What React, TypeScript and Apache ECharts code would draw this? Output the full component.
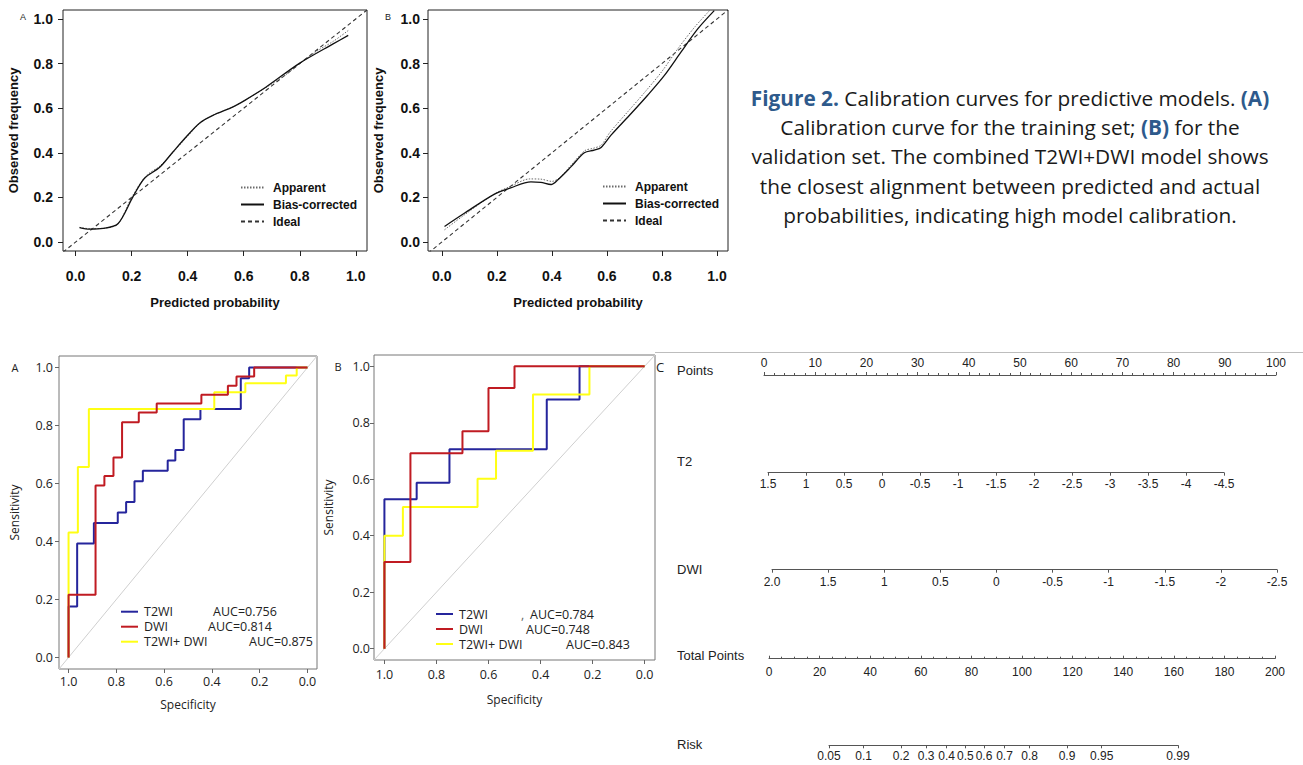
import React, { useEffect, useRef } from "react";
import * as echarts from "echarts";

// ---------- Calibration curves ----------
const calTicks = [0, 0.2, 0.4, 0.6, 0.8, 1.0];
const calSeriesNames = ["Apparent", "Bias-corrected", "Ideal"];

const calA_appX = [0.014, 0.05, 0.1, 0.15, 0.2, 0.25, 0.3, 0.35, 0.4, 0.445, 0.49, 0.56, 0.6, 0.68, 0.75, 0.8, 0.86, 0.92, 0.973];
const calA_appY = [0.066, 0.06, 0.062, 0.08, 0.2, 0.295, 0.34, 0.405, 0.475, 0.534, 0.568, 0.605, 0.632, 0.693, 0.75, 0.8, 0.855, 0.9, 0.948];
const calA_biasX = [0.014, 0.05, 0.098, 0.151, 0.205, 0.246, 0.3, 0.348, 0.395, 0.443, 0.49, 0.562, 0.604, 0.68, 0.8, 0.919, 0.973];
const calA_biasY = [0.065, 0.058, 0.061, 0.082, 0.204, 0.286, 0.335, 0.405, 0.472, 0.534, 0.568, 0.606, 0.635, 0.695, 0.802, 0.888, 0.926];
const calA_ideal = [-0.045, 1.04];

const calB_appX = [0.01, 0.08, 0.19, 0.25, 0.32, 0.36, 0.4, 0.43, 0.47, 0.52, 0.55, 0.58, 0.61, 0.68, 0.74, 0.8, 0.86, 0.92, 0.975];
const calB_appY = [0.055, 0.12, 0.215, 0.25, 0.283, 0.282, 0.272, 0.29, 0.345, 0.41, 0.42, 0.435, 0.49, 0.59, 0.675, 0.765, 0.87, 0.965, 1.04];
const calB_biasX = [0.01, 0.082, 0.19, 0.25, 0.324, 0.36, 0.397, 0.421, 0.47, 0.518, 0.554, 0.579, 0.615, 0.688, 0.748, 0.809, 0.869, 0.93, 0.99];
const calB_biasY = [0.07, 0.129, 0.214, 0.243, 0.27, 0.268, 0.258, 0.278, 0.338, 0.4, 0.412, 0.424, 0.479, 0.576, 0.658, 0.747, 0.851, 0.955, 1.037];
const calB_ideal = [-0.05, 1.04];

// ---------- ROC curves (specificity, sensitivity) ----------
const rocTicks = [0, 0.2, 0.4, 0.6, 0.8, 1.0];
const rocNames = ["T2WI", "DWI", "T2WI+ DWI"];
const rocA_auc = ["AUC=0.756", "AUC=0.814", "AUC=0.875"];
const rocB_auc = ["AUC=0.784", "AUC=0.748", "AUC=0.843"];

const rocA_t2Spec = [1, 1, 0.964, 0.964, 0.894, 0.894, 0.794, 0.794, 0.759, 0.759, 0.724, 0.724, 0.689, 0.689, 0.585, 0.585, 0.553, 0.553, 0.518, 0.518, 0.448, 0.448, 0.279, 0.279, 0.244, 0.244, 0];
const rocA_t2Sens = [0, 0.176, 0.176, 0.393, 0.393, 0.464, 0.464, 0.5, 0.5, 0.536, 0.536, 0.608, 0.608, 0.644, 0.644, 0.679, 0.679, 0.716, 0.716, 0.822, 0.822, 0.857, 0.857, 0.963, 0.963, 1, 1];
const rocA_dwiSpec = [1, 1, 0.887, 0.887, 0.85, 0.85, 0.812, 0.812, 0.776, 0.776, 0.706, 0.706, 0.631, 0.631, 0.444, 0.444, 0.333, 0.333, 0.297, 0.297, 0.223, 0.223, 0];
const rocA_dwiSens = [0, 0.216, 0.216, 0.593, 0.593, 0.626, 0.626, 0.69, 0.69, 0.811, 0.811, 0.845, 0.845, 0.876, 0.876, 0.906, 0.906, 0.937, 0.937, 0.969, 0.969, 1, 1];
const rocA_combSpec = [1, 1, 0.961, 0.961, 0.915, 0.915, 0.39, 0.39, 0.26, 0.26, 0.09, 0.09, 0.045, 0.045, 0];
const rocA_combSens = [0, 0.431, 0.431, 0.657, 0.657, 0.857, 0.857, 0.915, 0.915, 0.946, 0.946, 0.973, 0.973, 1, 1];

const rocB_t2Spec = [1, 1, 0.876, 0.876, 0.75, 0.75, 0.376, 0.376, 0.25, 0.25, 0];
const rocB_t2Sens = [0, 0.529, 0.529, 0.588, 0.588, 0.706, 0.706, 0.882, 0.882, 1, 1];
const rocB_dwiSpec = [1, 1, 0.9, 0.9, 0.7, 0.7, 0.6, 0.6, 0.5, 0.5, 0];
const rocB_dwiSens = [0, 0.307, 0.307, 0.692, 0.692, 0.77, 0.77, 0.923, 0.923, 1, 1];
const rocB_combSpec = [1, 1, 0.929, 0.929, 0.642, 0.642, 0.571, 0.571, 0.429, 0.429, 0.212, 0.212, 0];
const rocB_combSens = [0, 0.4, 0.4, 0.502, 0.502, 0.602, 0.602, 0.701, 0.701, 0.9, 0.9, 1, 1];
const rocDiag = [1.04, -0.04];

// ---------- Nomogram ----------
const nomoRows = ["Points", "T2", "DWI", "Total Points", "Risk"];
const riskLabels = ["0.05", "0.1", "0.2", "0.3", "0.4", "0.5", "0.6", "0.7", "0.8", "0.9", "0.95", "0.99"];
const riskPoints = [23.7, 37.4, 52.2, 62.1, 70.2, 77.6, 85.0, 93.1, 103.0, 117.8, 131.5, 161.7];

// ---------- Caption ----------
const captionLines = [
  "{b|Figure 2.} Calibration curves for predictive models. {b|(A)}",
  "Calibration curve for the training set; {b|(B)} for the",
  "validation set. The combined T2WI+DWI model shows",
  "the closest alignment between predicted and actual",
  "probabilities, indicating high model calibration.",
];

const FONT_CAL = "Liberation Sans";
const FONT_ROC = "Open Sans";
const FONT_NOMO = "Liberation Sans";
const FONT_CAP = "Open Sans";
const BLUE = "#25259c";
const RED = "#c01b22";
const YELLOW = "#ffff14";

const zip = (xs: number[], ys: number[]) => xs.map((x, i) => [x, ys[i]]);

function calXAxis(gridIndex: number, min: number) {
  return {
    type: "value", gridIndex, min, max: 1.04,
    splitLine: { show: false },
    axisLine: { show: false, onZero: false },
    axisTick: { show: true, customValues: calTicks, length: 5, lineStyle: { color: "#222", width: 1 } },
    axisLabel: { customValues: calTicks, formatter: (v: number) => v.toFixed(1), margin: 18, fontFamily: FONT_CAL, fontWeight: "bold", fontSize: 14, color: "#111" },
    name: "Predicted probability", nameLocation: "middle", nameGap: 45,
    nameTextStyle: { fontFamily: FONT_CAL, fontWeight: "bold", fontSize: 13, color: "#111" },
  };
}
function calYAxis(gridIndex: number, margin: number) {
  return {
    type: "value", gridIndex, min: -0.04, max: 1.04,
    splitLine: { show: false },
    axisLine: { show: false, onZero: false },
    axisTick: { show: true, customValues: calTicks, length: 5, lineStyle: { color: "#222", width: 1 } },
    axisLabel: { customValues: calTicks, formatter: (v: number) => v.toFixed(1), margin, fontFamily: FONT_CAL, fontWeight: "bold", fontSize: 14, color: "#111" },
    name: "Observed frequency", nameLocation: "middle", nameGap: 43,
    nameTextStyle: { fontFamily: FONT_CAL, fontWeight: "bold", fontSize: 13, color: "#111" },
  };
}
function rocXAxis(gridIndex: number, margin: number, gap: number) {
  return {
    type: "value", gridIndex, min: -0.04, max: 1.04, inverse: true,
    splitLine: { show: false },
    axisLine: { show: false, onZero: false },
    axisTick: { show: true, customValues: rocTicks, length: 4, lineStyle: { color: "#666", width: 1 } },
    axisLabel: { customValues: rocTicks, formatter: (v: number) => v.toFixed(1), margin, fontFamily: FONT_ROC, fontSize: 12.5, color: "#222" },
    name: "Specificity", nameLocation: "middle", nameGap: gap,
    nameTextStyle: { fontFamily: FONT_ROC, fontSize: 12, color: "#222" },
  };
}
function rocYAxis(gridIndex: number, margin: number, gap: number) {
  return {
    type: "value", gridIndex, min: -0.04, max: 1.04,
    splitLine: { show: false },
    axisLine: { show: false, onZero: false },
    axisTick: { show: true, customValues: rocTicks, length: 4, lineStyle: { color: "#666", width: 1 } },
    axisLabel: { customValues: rocTicks, formatter: (v: number) => v.toFixed(1), margin, fontFamily: FONT_ROC, fontSize: 12.5, color: "#222" },
    name: "Sensitivity", nameLocation: "middle", nameGap: gap,
    nameTextStyle: { fontFamily: FONT_ROC, fontSize: 12, color: "#222" },
  };
}
function nomoAxis(gridIndex: number, extra: any) {
  const base: any = {
    type: "value", gridIndex,
    splitLine: { show: false },
    axisLine: { show: true, onZero: false, lineStyle: { color: "#555", width: 1 } },
    axisTick: { show: true, length: 3, lineStyle: { color: "#555", width: 1 } },
    axisLabel: { fontFamily: FONT_NOMO, fontSize: 12, color: "#222", margin: 6, showMinLabel: true, showMaxLabel: true },
  };
  return {
    ...base, ...extra,
    axisTick: { ...base.axisTick, ...(extra.axisTick || {}) },
    axisLabel: { ...base.axisLabel, ...(extra.axisLabel || {}) },
  };
}

function calSeries(idx: number, appX: number[], appY: number[], biasX: number[], biasY: number[], ideal: number[]) {
  return [
    { name: calSeriesNames[0], type: "line", xAxisIndex: idx, yAxisIndex: idx, data: zip(appX, appY), symbol: "none", smooth: 0.3, silent: true, lineStyle: { color: "#6a6a6a", width: 1, type: [1.5, 1.5] }, itemStyle: { color: "#6a6a6a" }, z: 3 },
    { name: calSeriesNames[1], type: "line", xAxisIndex: idx, yAxisIndex: idx, data: zip(biasX, biasY), symbol: "none", smooth: 0.3, silent: true, lineStyle: { color: "#111", width: 1.3 }, itemStyle: { color: "#111" }, z: 4 },
    { name: calSeriesNames[2], type: "line", xAxisIndex: idx, yAxisIndex: idx, data: zip(ideal, ideal), symbol: "none", silent: true, lineStyle: { color: "#333", width: 1.1, type: [4, 3] }, itemStyle: { color: "#333" }, z: 2 },
  ];
}
function rocSeries(idx: number, t2: number[][], dwi: number[][], comb: number[][]) {
  return [
    { name: "diag" + idx, type: "line", xAxisIndex: idx, yAxisIndex: idx, data: zip(rocDiag, [rocDiag[1], rocDiag[0]]), symbol: "none", silent: true, lineStyle: { color: "#cfcfcf", width: 1 }, z: 1 },
    { name: rocNames[0], type: "line", xAxisIndex: idx, yAxisIndex: idx, data: zip(t2[0], t2[1]), symbol: "none", silent: true, lineStyle: { color: BLUE, width: 2 }, itemStyle: { color: BLUE }, z: 2 },
    { name: rocNames[2], type: "line", xAxisIndex: idx, yAxisIndex: idx, data: zip(comb[0], comb[1]), symbol: "none", silent: true, lineStyle: { color: YELLOW, width: 2 }, itemStyle: { color: YELLOW }, z: 3 },
    { name: rocNames[1], type: "line", xAxisIndex: idx, yAxisIndex: idx, data: zip(dwi[0], dwi[1]), symbol: "none", silent: true, lineStyle: { color: RED, width: 2 }, itemStyle: { color: RED }, z: 4 },
  ];
}

function rocLegend(left: number, top: number, aucs: string[], widths: number[], comma: boolean) {
  const rich: any = {
    a: { fontFamily: FONT_ROC, fontSize: 12.5, color: "#222" },
    c: { fontFamily: FONT_ROC, fontSize: 12.5, color: "#666", width: 9 },
  };
  widths.forEach((w, i) => { rich["n" + i] = { fontFamily: FONT_ROC, fontSize: 12.5, color: "#222", width: w }; });
  return {
    orient: "vertical", left, top, padding: 0, itemGap: 1, itemWidth: 17, itemHeight: 8,
    selectedMode: false, data: rocNames,
    itemStyle: { opacity: 0 },
    formatter: (name: string) => {
      const i = rocNames.indexOf(name);
      return `{n${i}|${name}}` + (comma && i === 0 ? "{c|,}" : "") + `{a|${aucs[i]}}`;
    },
    textStyle: { fontFamily: FONT_ROC, fontSize: 12.5, color: "#222", lineHeight: 14, padding: [0, 0, 0, 1], rich },
  };
}
function calLegend(left: number, top: number) {
  return {
    orient: "vertical", left, top, padding: 0, itemGap: 2, itemWidth: 23, itemHeight: 10,
    selectedMode: false, data: calSeriesNames,
    itemStyle: { opacity: 0 },
    textStyle: { fontFamily: FONT_CAL, fontWeight: "bold", fontSize: 12, color: "#111", lineHeight: 15, padding: [0, 0, 0, 4] },
  };
}

function buildOption() {
  const grids = [
    { left: 63, top: 10, width: 304, height: 241, show: true, borderColor: "#222", borderWidth: 1, backgroundColor: "transparent", outerBoundsMode: "none" },
    { left: 428, top: 10, width: 300, height: 241, show: true, borderColor: "#222", borderWidth: 1, backgroundColor: "transparent", outerBoundsMode: "none" },
    { left: 59, top: 356, width: 258, height: 313, show: true, borderColor: "#777", borderWidth: 1, backgroundColor: "transparent", outerBoundsMode: "none" },
    { left: 374, top: 355, width: 281, height: 305, show: true, borderColor: "#777", borderWidth: 1, backgroundColor: "transparent", outerBoundsMode: "none" },
    { left: 764, top: 375, width: 512, height: 1, outerBoundsMode: "none" },
    { left: 768, top: 471.7, width: 456, height: 1, outerBoundsMode: "none" },
    { left: 772, top: 568.7, width: 505, height: 1, outerBoundsMode: "none" },
    { left: 769, top: 657.7, width: 506, height: 1, outerBoundsMode: "none" },
    { left: 829, top: 744.3, width: 349, height: 1, outerBoundsMode: "none" },
  ];

  const xAxes: any[] = [
    calXAxis(0, -0.045),
    calXAxis(1, -0.05),
    rocXAxis(2, 6, 29),
    rocXAxis(3, 8, 33),
    nomoAxis(4, { position: "top", min: 0, max: 100, interval: 10, minorTick: { show: true, splitNumber: 5, length: 2, lineStyle: { color: "#555" } }, axisLabel: { margin: 6 } }),
    nomoAxis(5, { position: "bottom", min: -4.5, max: 1.5, interval: 0.5, inverse: true, axisLabel: { margin: 5 } }),
    nomoAxis(6, { position: "bottom", min: -2.5, max: 2, interval: 0.5, inverse: true, axisLabel: { margin: 6, formatter: (v: number) => (v === 2 ? "2.0" : String(v)) } }),
    nomoAxis(7, { position: "bottom", min: 0, max: 200, interval: 20, axisTick: { inside: true }, minorTick: { show: true, splitNumber: 4, length: 2, lineStyle: { color: "#555" } }, axisLabel: { margin: 7 } }),
    nomoAxis(8, {
      position: "bottom", min: riskPoints[0], max: riskPoints[riskPoints.length - 1],
      axisTick: { customValues: riskPoints },
      axisLabel: {
        margin: 5, customValues: riskPoints,
        formatter: (v: number) => {
          let best = 0;
          riskPoints.forEach((p, i) => { if (Math.abs(p - v) < Math.abs(riskPoints[best] - v)) best = i; });
          return riskLabels[best];
        },
      },
    }),
  ];
  const yAxes: any[] = [
    calYAxis(0, 10),
    calYAxis(1, 8),
    rocYAxis(2, 6, 39),
    rocYAxis(3, 4, 40),
  ];
  for (let g = 4; g < 9; g++) yAxes.push({ type: "value", gridIndex: g, min: 0, max: 1, show: false });

  const series = [
    ...calSeries(0, calA_appX, calA_appY, calA_biasX, calA_biasY, calA_ideal),
    ...calSeries(1, calB_appX, calB_appY, calB_biasX, calB_biasY, calB_ideal),
    ...rocSeries(2, [rocA_t2Spec, rocA_t2Sens], [rocA_dwiSpec, rocA_dwiSens], [rocA_combSpec, rocA_combSens]),
    ...rocSeries(3, [rocB_t2Spec, rocB_t2Sens], [rocB_dwiSpec, rocB_dwiSens], [rocB_combSpec, rocB_combSens]),
  ];

  const rowY = [370, 461, 569, 655, 744];
  const graphic: any[] = [
    { type: "line", shape: { x1: 655, y1: 352.5, x2: 1303, y2: 352.5 }, style: { stroke: "#bdbdbd", lineWidth: 1 }, silent: true },
    { type: "text", x: 23, y: 17, style: { text: "A", fontSize: 9, fontFamily: FONT_CAL, fill: "#222", align: "center", verticalAlign: "middle" } },
    { type: "text", x: 388, y: 17, style: { text: "B", fontSize: 9, fontFamily: FONT_CAL, fill: "#222", align: "center", verticalAlign: "middle" } },
    { type: "text", x: 15, y: 367, style: { text: "A", fontSize: 11, fontFamily: FONT_ROC, fill: "#222", align: "center", verticalAlign: "middle" } },
    { type: "text", x: 338, y: 366, style: { text: "B", fontSize: 11, fontFamily: FONT_ROC, fill: "#222", align: "center", verticalAlign: "middle" } },
    { type: "text", x: 660, y: 367, style: { text: "C", fontSize: 13, fontFamily: FONT_ROC, fill: "#222", align: "center", verticalAlign: "middle" } },
    ...nomoRows.map((t, i) => ({ type: "text", x: 677, y: rowY[i], style: { text: t, fontSize: 13, fontFamily: FONT_NOMO, fill: "#222", align: "left", verticalAlign: "middle" } })),
    ...captionLines.map((t, i) => ({
      type: "text", x: 1010, y: 98 + i * 29.2,
      style: {
        text: t, fontSize: 20.8, fontFamily: FONT_CAP, fill: "#1a1a1a", align: "center", verticalAlign: "middle",
        rich: { b: { fontSize: 20.8, fontFamily: FONT_CAP, fontWeight: "bold", fill: "#2e5a8c" } },
      },
    })),
  ];

  return {
    animation: false,
    backgroundColor: "#ffffff",
    grid: grids,
    xAxis: xAxes,
    yAxis: yAxes,
    legend: [
      calLegend(240, 180),
      calLegend(602, 179),
      rocLegend(120, 604.7, rocA_auc, [69, 64, 105], false),
      rocLegend(435, 607, rocB_auc, [62, 67, 107], true),
    ],
    series,
    graphic,
  };
}

export default function App() {
  const ref = useRef<HTMLDivElement>(null);
  useEffect(() => {
    if (!ref.current) return;
    const chart = echarts.init(ref.current, undefined, { renderer: "svg" });
    chart.setOption(buildOption() as any);
    return () => chart.dispose();
  }, []);
  return (
    <div
      ref={ref}
      style={{ position: "fixed", left: 0, top: 0, width: 1303, height: 765, background: "#fff" }}
    />
  );
}
